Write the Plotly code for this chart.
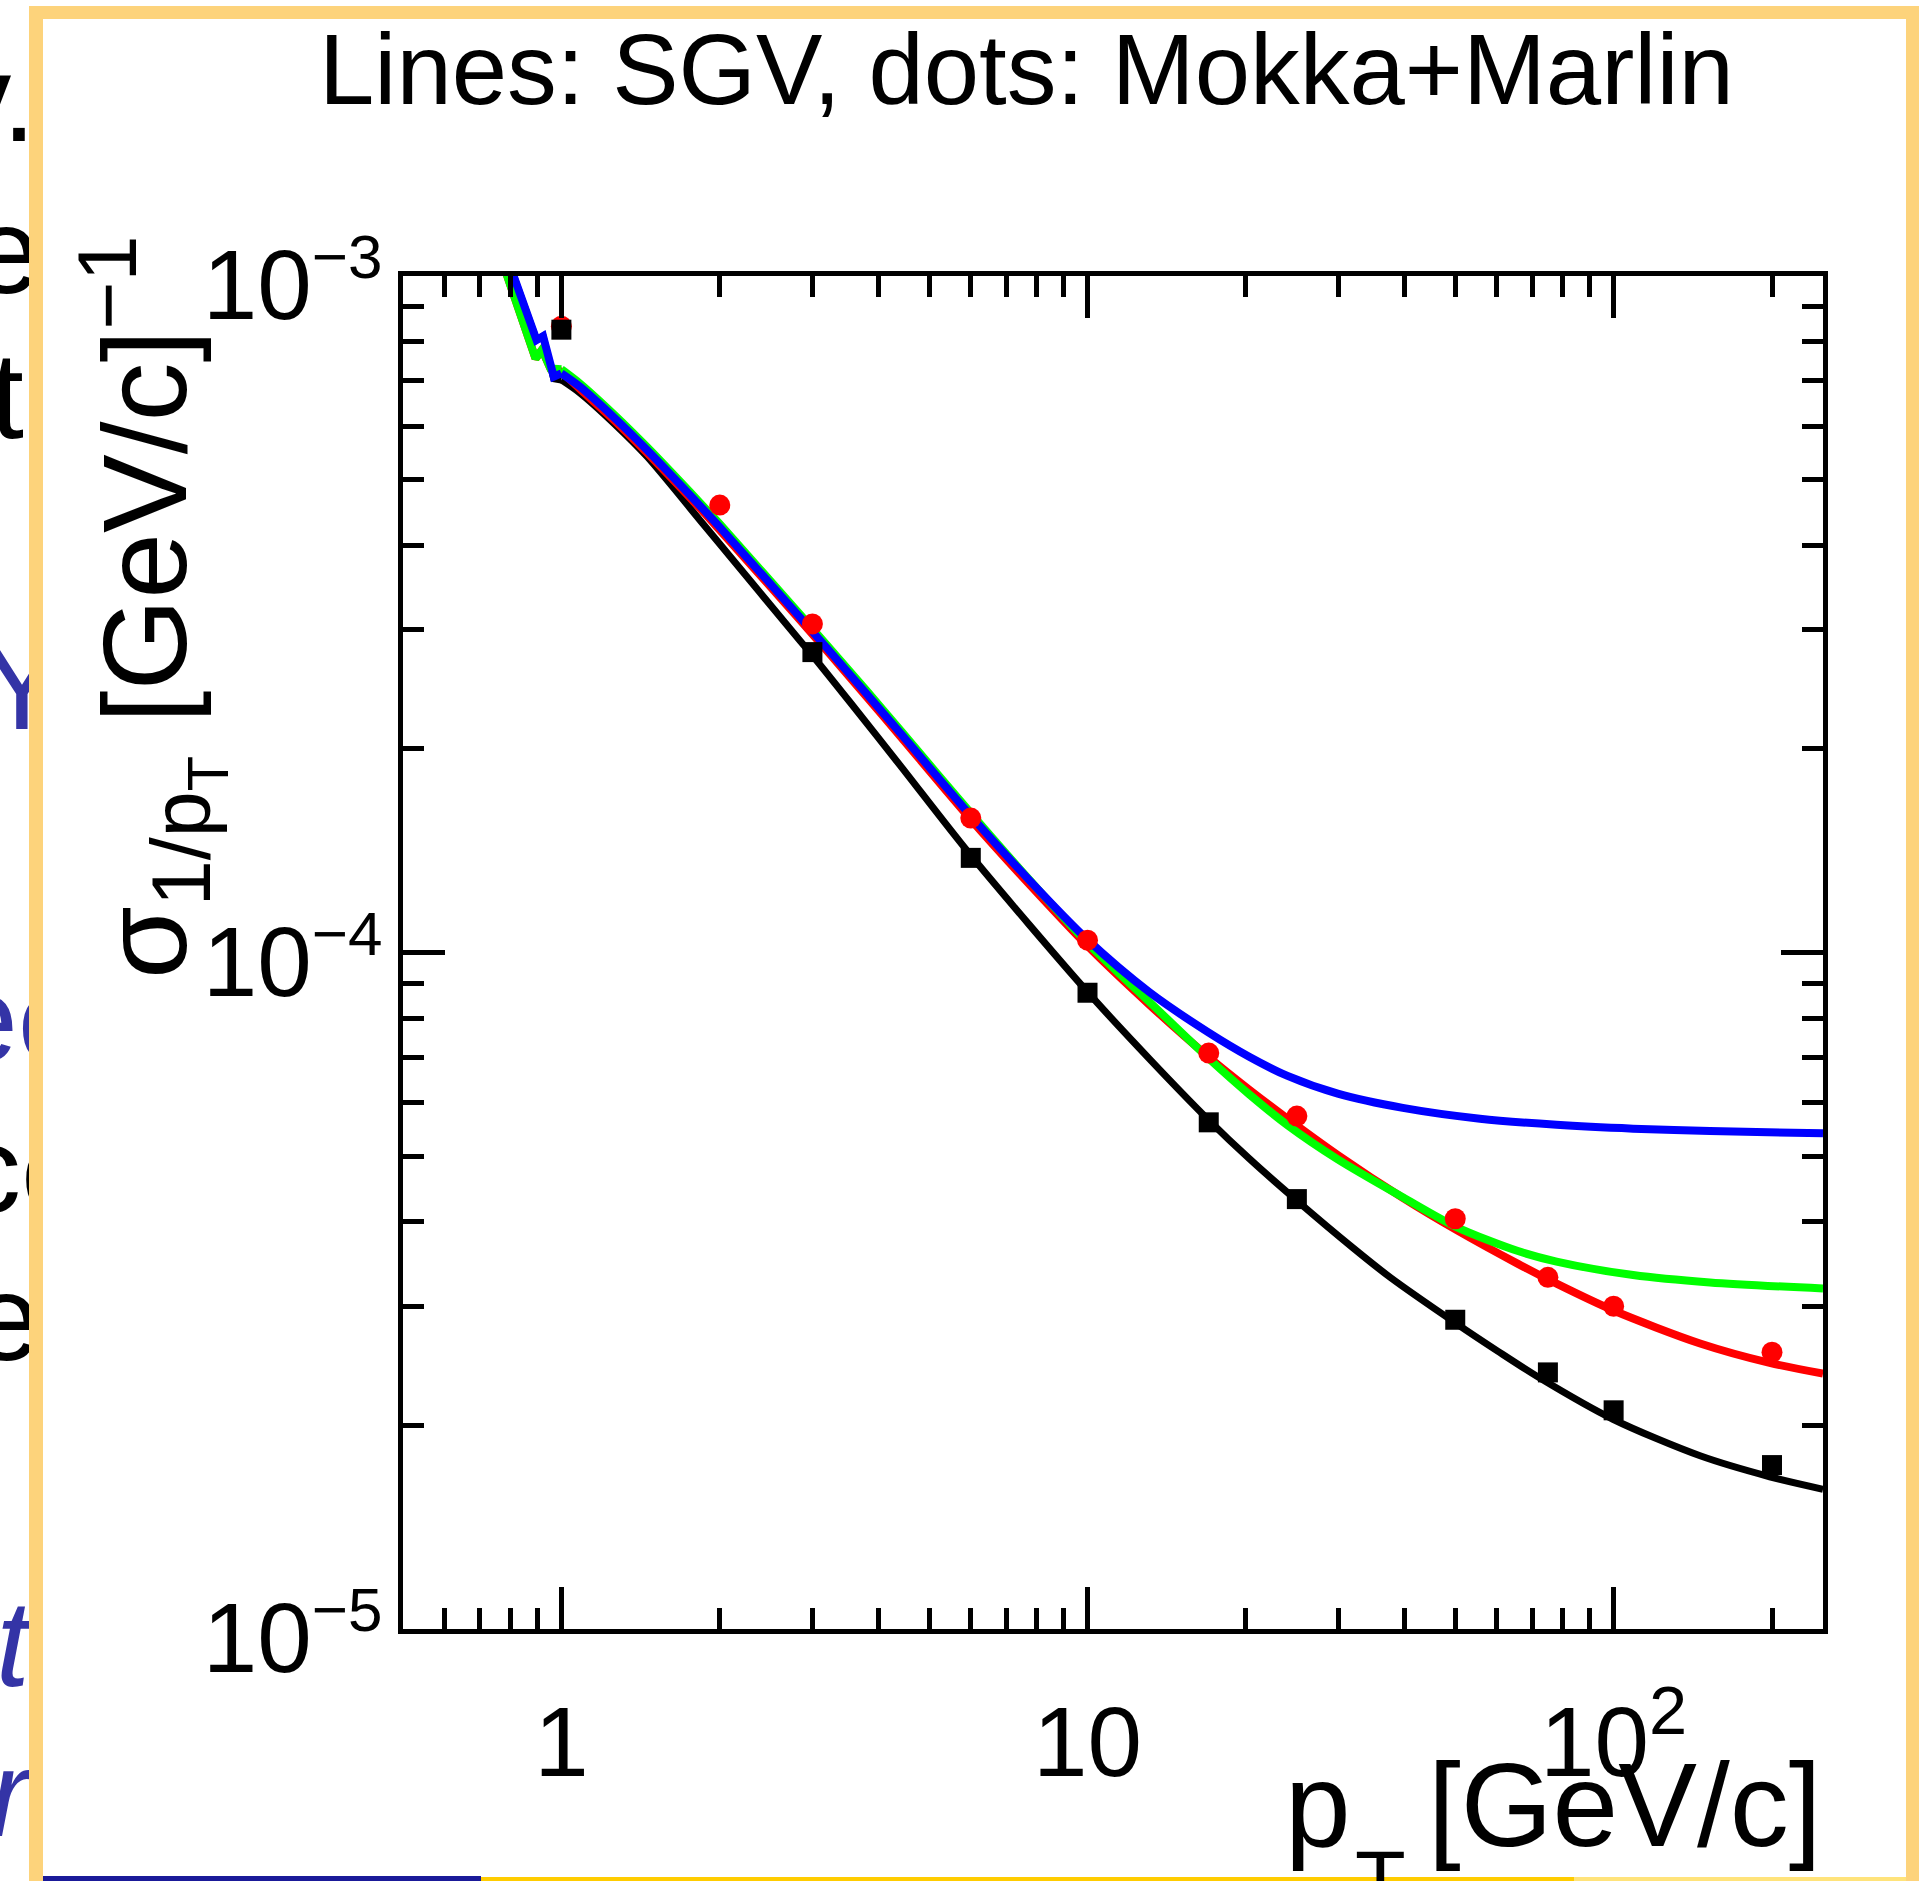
import plotly.graph_objects as go

W, H = 1931, 1881
FONT = "Liberation Sans, Arial, Helvetica, sans-serif"

# ---- SGV curves: sigma(1/pT) [(GeV/c)^-1] versus pT [GeV/c] ----
pt_black = [0.79, 0.812, 0.897, 0.923, 0.967, 1.0, 1.086, 1.257, 1.454, 1.836, 2.0,
            2.842, 3.0, 3.535, 4.4, 6.0, 9.97, 13.11, 16.97, 20.3, 24.9, 31.9, 37.7,
            50.0, 60.2, 72.4, 99.7, 146, 198, 250]
sig_black = [1.06e-3, 1.0e-3, 8.04e-4, 8.15e-4, 7.05e-4, 7.02e-4, 6.71e-4, 6.06e-4,
             5.41e-4, 4.351e-4, 4.016e-4, 2.889e-4, 2.749e-4, 2.346e-4, 1.892e-4,
             1.392e-4, 8.767e-5, 6.963e-5, 5.66e-5, 4.957e-5, 4.309e-5, 3.664e-5,
             3.305e-5, 2.835e-5, 2.575e-5, 2.349e-5, 2.042e-5, 1.803e-5, 1.679e-5,
             1.609e-5]

pt_red = [0.77, 0.789, 0.893, 0.919, 0.953, 1.0, 1.086, 1.257, 1.454, 1.836, 2.0, 2.842,
          3.8, 4.4, 5.99, 7.76, 9.97, 13.11, 16.97, 20.29, 24.0, 29.9, 39.75, 50.3, 65.8,
          77.9, 99.7, 146, 198, 250]
sig_red = [1.057e-3, 1.0e-3, 7.55e-4, 7.78e-4, 7.30e-4, 7.22e-4, 6.80e-4, 6.13e-4,
           5.48e-4, 4.53e-4, 4.21e-4, 3.10e-4, 2.39e-4, 2.09e-4, 1.575e-4, 1.26e-4,
           1.025e-4, 8.372e-5, 7.013e-5, 6.271e-5, 5.68e-5, 5.02e-5, 4.337e-5, 3.887e-5,
           3.465e-5, 3.239e-5, 2.959e-5, 2.643e-5, 2.474e-5, 2.385e-5]

pt_green = [0.77, 0.789, 0.893, 0.919, 0.953, 1.0, 1.086, 1.257, 1.454, 1.836, 2.0,
            2.842, 3.8, 4.4, 5.99, 7.76, 9.97, 13.11, 16.97, 20.3, 24.0, 29.9, 39.75,
            50.3, 65.8, 77.9, 108.9, 152.4, 250]
sig_green = [1.057e-3, 1.0e-3, 7.55e-4, 7.78e-4, 7.30e-4, 7.28e-4, 6.93e-4, 6.25e-4,
             5.59e-4, 4.62e-4, 4.30e-4, 3.16e-4, 2.44e-4, 2.135e-4, 1.61e-4, 1.28e-4,
             1.035e-4, 8.452e-5, 6.981e-5, 6.17e-5, 5.556e-5, 4.947e-5, 4.348e-5,
             3.928e-5, 3.62e-5, 3.493e-5, 3.336e-5, 3.253e-5, 3.186e-5]

pt_blue = [0.79, 0.812, 0.897, 0.923, 0.967, 1.0, 1.086, 1.257, 1.454, 1.836, 2.0, 2.842,
           3.8, 4.4, 5.99, 7.76, 9.97, 13.11, 16.97, 20.29, 24.0, 29.9, 39.75, 55.7,
           77.9, 108.9, 152.4, 250]
sig_blue = [1.06e-3, 1.0e-3, 8.04e-4, 8.15e-4, 7.10e-4, 7.18e-4, 6.855e-4, 6.186e-4,
            5.534e-4, 4.572e-4, 4.254e-4, 3.128e-4, 2.414e-4, 2.113e-4, 1.595e-4,
            1.278e-4, 1.047e-4, 8.737e-5, 7.62e-5, 7.014e-5, 6.57e-5, 6.185e-5, 5.892e-5,
            5.679e-5, 5.562e-5, 5.49e-5, 5.446e-5, 5.405e-5]

# ---- full simulation + reconstruction (Mokka+Marlin) points ----
pt_dots_red = [1, 2, 3, 6, 10, 17, 25, 50, 75, 100, 200]
sig_dots_red = [8.43e-4, 4.585e-4, 3.06e-4, 1.58e-4, 1.043e-4, 7.10e-5, 5.73e-5,
                4.04e-5, 3.31e-5, 3.00e-5, 2.565e-5]
pt_dots_black = [1, 3, 6, 10, 17, 25, 50, 75, 100, 200]
sig_dots_black = [8.33e-4, 2.78e-4, 1.38e-4, 8.72e-5, 5.61e-5, 4.32e-5, 2.865e-5,
                  2.395e-5, 2.105e-5, 1.747e-5]

# ---- axes ----
x_major = [1, 10, 100]
x_major_text = ["1", "10", "10<sup>2</sup>"]
x_minor = [0.6, 0.7, 0.8, 0.9, 2, 3, 4, 5, 6, 7, 8, 9,
           20, 30, 40, 50, 60, 70, 80, 90, 200]
y_major = [1e-5, 1e-4, 1e-3]
SUP = "<sup><span style='font-size:62px'>%s</span></sup>"
y_major_text = ["10" + SUP % "\u22125", "10" + SUP % "\u22124", "10" + SUP % "\u22123"]
y_minor = [2e-5, 3e-5, 4e-5, 5e-5, 6e-5, 7e-5, 8e-5, 9e-5,
           2e-4, 3e-4, 4e-4, 5e-4, 6e-4, 7e-4, 8e-4, 9e-4]

title_text = "Lines: SGV, dots: Mokka+Marlin"
ytitle_text = "\u03c3<sub>1/p<sub>T</sub></sub> [GeV/c]<sup>\u22121</sup>"
xtitle_main = "p"
xtitle_sub = "T"
xtitle_unit = "[GeV/c]"

# slide text running underneath the left edge of the frame
side_text = ["y.", "e", "t", "Y", "ec", "cc", "e", "t", "r"]
side_y = [110, 262, 407, 698, 1030, 1181, 1329, 1655, 1805]
side_x = [36, 40, 24, 22, -50, -40, 40, 30, 30]
side_pos = ["middle left", "middle left", "middle left", "middle center", "middle right",
            "middle right", "middle left", "middle left", "middle left"]
side_color = ["#000000", "#000000", "#000000", "#3434a6", "#3434a6", "#000000",
              "#000000", "#3434a6", "#3434a6"]
side_style = ["normal", "normal", "normal", "normal", "normal", "normal", "normal",
              "italic", "italic"]

# plot frame in pixels
L, R, T, B = 403, 1823, 276, 1629


def px(x):
    return x / W


def py(y):
    return 1 - y / H


fig = go.Figure()

# the low-pT kink is drawn with straight segments, the rest as a smooth curve
for xs, ys, col, w in [(pt_black, sig_black, "#000000", 7),
                       (pt_red, sig_red, "#ff0000", 8),
                       (pt_green, sig_green, "#00ff00", 8),
                       (pt_blue, sig_blue, "#0000ff", 8)]:
    k = xs.index(1.0)
    fig.add_trace(go.Scatter(x=xs[:k + 1], y=ys[:k + 1], mode="lines",
                             line=dict(color=col, width=w), xaxis="x", yaxis="y"))
    fig.add_trace(go.Scatter(x=xs[k:], y=ys[k:], mode="lines",
                             line=dict(color=col, width=w, shape="spline", smoothing=0.8),
                             xaxis="x", yaxis="y"))

fig.add_trace(go.Scatter(x=pt_dots_red, y=sig_dots_red, mode="markers",
                         marker=dict(symbol="circle", size=21, color="#ff0000",
                                     line=dict(width=0)),
                         xaxis="x", yaxis="y"))
fig.add_trace(go.Scatter(x=pt_dots_black, y=sig_dots_black, mode="markers",
                         marker=dict(symbol="square", size=20, color="#000000",
                                     line=dict(width=0)),
                         xaxis="x", yaxis="y"))

for t, yy, xx, pos, col, st in zip(side_text, side_y, side_x, side_pos, side_color, side_style):
    fig.add_trace(go.Scatter(x=[xx], y=[yy], mode="text", text=[t], textposition=pos,
                             textfont=dict(family=FONT, size=122, color=col, style=st),
                             cliponaxis=True, xaxis="x2", yaxis="y2"))

axis_common = dict(
    type="log", showgrid=False, zeroline=False, showline=True, linecolor="#000000",
    linewidth=5, mirror="allticks", ticks="inside", ticklen=42, tickwidth=5,
    tickcolor="#000000", tickmode="array", automargin=False,
    tickfont=dict(family=FONT, size=98, color="#000000"),
)
minor_common = dict(tickmode="array", ticks="inside", ticklen=21, tickwidth=5,
                    tickcolor="#000000", showgrid=False)

fig.update_layout(
    width=W, height=H, margin=dict(l=0, r=0, t=0, b=0),
    paper_bgcolor="#ffffff", plot_bgcolor="#ffffff", showlegend=False,
    xaxis=dict(axis_common, range=[-0.30103, 2.39794], domain=[px(L), px(R)],
               tickvals=x_major, ticktext=x_major_text, anchor="y",
               ticklabelstandoff=24, minor=dict(minor_common, tickvals=x_minor)),
    yaxis=dict(axis_common, range=[-5, -3], domain=[py(B), py(T)],
               tickvals=y_major, ticktext=y_major_text, anchor="x",
               ticklabelstandoff=-4, ticklabelshift=9,
               minor=dict(minor_common, tickvals=y_minor)),
    xaxis2=dict(domain=[0, px(43)], range=[0, 43], visible=False, anchor="y2",
                fixedrange=True),
    yaxis2=dict(domain=[0, 1], range=[H, 0], visible=False, anchor="x2",
                fixedrange=True),
)

# slide frame and footer bars
shapes = [
    dict(type="rect", x0=px(29), x1=px(43), y0=py(H + 5), y1=py(6),
         fillcolor="#fdd37b", line=dict(width=0)),
    dict(type="rect", x0=px(29), x1=px(1919), y0=py(19), y1=py(6),
         fillcolor="#fdd37b", line=dict(width=0)),
    dict(type="rect", x0=px(1906), x1=px(1919), y0=py(H + 5), y1=py(6),
         fillcolor="#fdd37b", line=dict(width=0)),
    dict(type="rect", x0=px(43), x1=px(481), y0=py(H + 5), y1=py(1876),
         fillcolor="#1a1a99", line=dict(width=0)),
    dict(type="rect", x0=px(481), x1=px(1574), y0=py(H + 5), y1=py(1877),
         fillcolor="#ffcc00", line=dict(width=0)),
    dict(type="rect", x0=px(1574), x1=px(1906), y0=py(H + 5), y1=py(1877),
         fillcolor="#ffe37a", line=dict(width=0)),
]
for s in shapes:
    s.update(xref="paper", yref="paper", layer="above")
fig.update_layout(shapes=shapes)

annotations = [
    dict(text=title_text, x=px(1026), y=py(70), xanchor="center", yanchor="middle",
         font=dict(family=FONT, size=99.5, color="#000000")),
    dict(text=ytitle_text, x=px(150), y=py(608), xanchor="center", yanchor="middle",
         textangle=-90, font=dict(family=FONT, size=118, color="#000000")),
    dict(text=xtitle_main, x=px(1283), y=py(1805), xanchor="left", yanchor="middle",
         font=dict(family=FONT, size=118, color="#000000")),
    dict(text=xtitle_sub, x=px(1353), y=py(1880), xanchor="left", yanchor="middle",
         font=dict(family=FONT, size=83, color="#000000")),
    dict(text=xtitle_unit, x=px(1823), y=py(1805), xanchor="right", yanchor="middle",
         font=dict(family=FONT, size=118, color="#000000")),
]
for a in annotations:
    a.update(xref="paper", yref="paper", showarrow=False)
fig.update_layout(annotations=annotations)

fig.write_html("out.html")
